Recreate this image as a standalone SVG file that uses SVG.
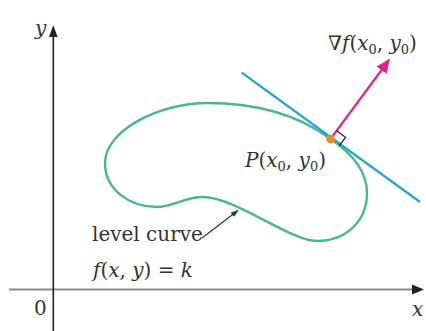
<svg xmlns="http://www.w3.org/2000/svg" width="426" height="331" viewBox="0 0 426 331">
<style>
text{font-family:'DejaVu Serif','Liberation Serif',serif;font-size:20px;fill:#333}
.i{font-style:italic}
.s{font-size:13px}
</style>
<defs>
<marker id="ahm" viewBox="0 0 10 10" refX="9" refY="5" markerWidth="14" markerHeight="14" markerUnits="userSpaceOnUse" orient="auto"><path d="M0,0.5 L10,5 L0,9.5 Z" fill="#e0248a"/></marker>
<marker id="ahs" viewBox="0 0 10 10" refX="9" refY="5" markerWidth="8" markerHeight="8" markerUnits="userSpaceOnUse" orient="auto"><path d="M0,1.5 L10,5 L0,8.5 Z" fill="#333"/></marker>
</defs>
<rect width="426" height="331" fill="#fff"/>
<g id="axes">
<line x1="9" y1="289.5" x2="414" y2="289.5" stroke="#8a8a8a" stroke-width="2.2"/>
<path d="M424,289.5 L412,284.5 L412,294.5 Z" fill="#222"/>
<line x1="53.3" y1="331" x2="53.3" y2="34" stroke="#222" stroke-width="1.6"/>
<path d="M53.3,25 L49,37 L57.6,37 Z" fill="#222"/>
<text class="i" x="35" y="35">y</text>
<text class="i" x="412" y="316">x</text>
<text x="34" y="315">0</text>
</g>
<g id="level-curve">
<path d="M330.5,139 C350,152 367,170 367,193 C367,222 345,241 317,241 C290,241 235,197 203,197 C185,197 172,207 157,207 C130,207 105,190 105,163 C105,130 160,103 207,103 C260,103 300,116 330.5,139 Z" fill="none" stroke="#4cb888" stroke-width="2.4"/>
</g>
<g id="tangent-line">
<line x1="241.7" y1="72.7" x2="420" y2="202" stroke="#1fa4d6" stroke-width="2.2"/>
</g>
<g id="gradient">
<line x1="330.5" y1="139" x2="389" y2="60" stroke="#e0248a" stroke-width="2.2" marker-end="url(#ahm)"/>
<path d="M336.7,130.7 L345.5,137.3 L339.2,145.8" fill="none" stroke="#222" stroke-width="1.3"/>
<text x="328" y="50">∇<tspan class="i">f</tspan>(<tspan class="i">x</tspan><tspan class="s" dy="4">0</tspan><tspan dy="-4">, </tspan><tspan class="i">y</tspan><tspan class="s" dy="4">0</tspan><tspan dy="-4">)</tspan></text>
</g>
<g id="point-P">
<circle cx="330.5" cy="139" r="4.3" fill="#f28a22"/>
<text x="245" y="167"><tspan class="i">P</tspan>(<tspan class="i">x</tspan><tspan class="s" dy="4">0</tspan><tspan dy="-4">, </tspan><tspan class="i">y</tspan><tspan class="s" dy="4">0</tspan><tspan dy="-4">)</tspan></text>
</g>
<g id="label-level-curve">
<text x="92" y="241">level curve</text>
<text x="93" y="277"><tspan class="i">f</tspan>(<tspan class="i">x</tspan>, <tspan class="i">y</tspan>) = <tspan class="i">k</tspan></text>
</g>
<g id="connectors">
<line x1="202" y1="238" x2="238" y2="210.5" stroke="#333" stroke-width="1.2" marker-end="url(#ahs)"/>
</g>
</svg>
